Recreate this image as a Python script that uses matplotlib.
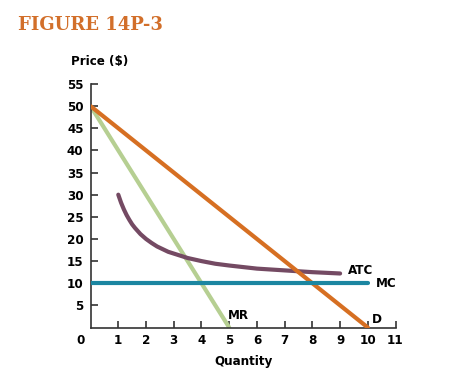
import matplotlib.pyplot as plt

# demand, marginal revenue, cost curves
quantity_d = [0, 10]
price_d = [50, 0]
quantity_mr = [0, 5]
price_mr = [50, 0]
quantity_mc = [0, 10]
price_mc = [10, 10]
quantity_atc = [1, 1.1, 1.2, 1.3, 1.4, 1.5, 1.6, 1.8, 2, 2.2, 2.4, 2.6, 2.8, 3, 3.5,
                4, 4.5, 5, 6, 7, 8, 9]
price_atc = [30, 28.2, 26.7, 25.4, 24.3, 23.3, 22.5, 21.1, 20, 19.1, 18.3, 17.7, 17.1,
             16.7, 15.7, 15, 14.4, 14, 13.3, 12.9, 12.5, 12.2]
x_ticks = [1, 2, 3, 4, 5, 6, 7, 8, 9, 10, 11]
y_ticks = [5, 10, 15, 20, 25, 30, 35, 40, 45, 50, 55]

narrow = dict(family='DejaVu Sans', stretch='condensed', weight='bold')

fig = plt.figure(figsize=(4.68, 3.83), dpi=100)
ax = fig.add_axes([0.1935, 0.1449, 0.6517, 0.6358])

ax.plot(quantity_mr, price_mr, color='#b6cf92', lw=3, solid_capstyle='round', zorder=2)
ax.plot(quantity_atc, price_atc, color='#744a63', lw=3, solid_capstyle='round',
        solid_joinstyle='round', zorder=3)
ax.plot(quantity_d, price_d, color='#d66f22', lw=3, solid_capstyle='round', zorder=4)
ax.plot(quantity_mc, price_mc, color='#1b86a1', lw=3, solid_capstyle='round', zorder=5)

ax.set_xlim(0, 11)
ax.set_ylim(0, 55)
ax.set_xticks(x_ticks)
ax.set_yticks(y_ticks)
ax.set_xticklabels([str(t) for t in x_ticks], fontsize=9.5, **narrow)
ax.set_yticklabels([str(t) for t in y_ticks], fontsize=9.5, **narrow)
ax.tick_params(direction='in', length=5, width=1.2, color='#333333', pad=5)
for s in ['top', 'right']:
    ax.spines[s].set_visible(False)
for s in ['left', 'bottom']:
    ax.spines[s].set_color('#333333')
    ax.spines[s].set_linewidth(1.2)

ax.text(-0.35, -1.5, '0', ha='center', va='top', fontsize=9.5, clip_on=False, **narrow)

ax.text(9.3, 12.8, 'ATC', ha='left', va='center', fontsize=9.5, clip_on=False, **narrow)
ax.text(10.3, 10, 'MC', ha='left', va='center', fontsize=9.5, clip_on=False, **narrow)
ax.text(4.95, 2.7, 'MR', ha='left', va='center', fontsize=9.5, clip_on=False, **narrow)
ax.text(10.15, 1.8, 'D', ha='left', va='center', fontsize=9.5, clip_on=False, **narrow)

fig.text(71 / 468, 1 - 62 / 383, 'Price ($)', ha='left', va='center', fontsize=9.5, **narrow)
fig.text(243 / 468, 1 - 362 / 383, 'Quantity', ha='center', va='center', fontsize=9.5,
         **narrow)
fig.text(18 / 468, 1 - 25 / 383, 'FIGURE 14P-3', ha='left', va='center',
         family='DejaVu Serif', weight='bold', fontsize=13, color='#d26f2a')

fig.savefig('out.png', dpi=100)
